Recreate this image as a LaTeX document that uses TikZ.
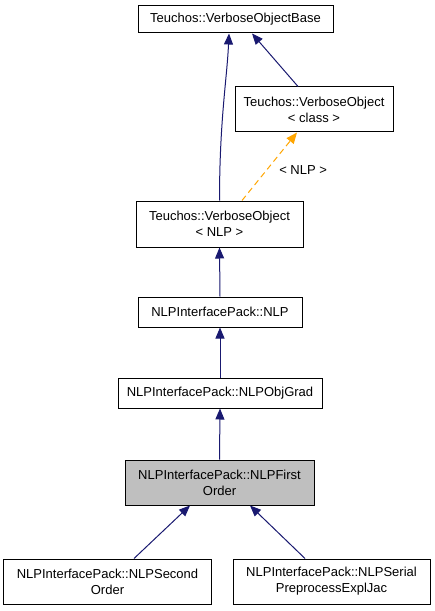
\documentclass[tikz,border=0pt]{standalone}
\usepackage{fontspec}
\setmainfont{Liberation Sans}
\usetikzlibrary{arrows.meta}
\definecolor{edgeblue}{HTML}{191970}
\definecolor{edgeorange}{HTML}{FFA500}
\definecolor{hilite}{HTML}{BFBFBF}
\tikzset{
  box/.style={draw=black, line width=1bp, fill=white, inner sep=0pt, align=center,
    font=\fontsize{13bp}{16bp}\selectfont},
  inherit/.style={draw=edgeblue, line width=1bp, -{Triangle[length=11bp,width=9bp]}},
  templ/.style={draw=edgeorange, line width=1bp, dashed, dash pattern=on 6bp off 4bp,
    -{Triangle[length=11bp,width=9bp]}},
  lbl/.style={font=\fontsize{13bp}{16bp}\selectfont, inner sep=0pt}
}
\begin{document}
\begin{tikzpicture}[x=1bp,y=-1bp]
\useasboundingbox (0,0) rectangle (435,611);
\node[box, minimum width=195bp, minimum height=27bp] (base) at (235.5,19.5) {Teuchos::VerboseObjectBase};
\node[box, minimum width=158bp, minimum height=45bp] (voclass) at (314,109.5) {Teuchos::VerboseObject\\\textless{} class \textgreater};
\node[box, minimum width=167bp, minimum height=46bp] (vonlp) at (219.5,224) {Teuchos::VerboseObject\\\textless{} NLP \textgreater};
\node[box, minimum width=164bp, minimum height=30bp] (nlp) at (220,312) {NLPInterfacePack::NLP};
\node[box, minimum width=204bp, minimum height=30bp] (objgrad) at (220,393) {NLPInterfacePack::NLPObjGrad};
\node[box, fill=hilite, minimum width=189bp, minimum height=45bp] (first) at (219.5,482.5) {NLPInterfacePack::NLPFirst\\Order};
\node[box, minimum width=207bp, minimum height=45bp] (second) at (107.5,581.5) {NLPInterfacePack::NLPSecond\\Order};
\node[box, minimum width=197bp, minimum height=45bp] (serial) at (331.5,581.5) {NLPInterfacePack::NLPSerial\\PreprocessExplJac};

\draw[inherit] (vonlp.north) .. controls ++(0,-80) and ++(-2,45) .. ([xshift=-6.5bp]base.south);
\draw[inherit] ([xshift=-16bp]voclass.north) -- ([xshift=16.5bp]base.south);
\draw[templ] ([xshift=22.5bp]vonlp.north) -- node[lbl, pos=0.45, right=12bp] {\textless{} NLP \textgreater} ([xshift=-17bp]voclass.south);
\draw[inherit] (nlp.north) -- (vonlp.south);
\draw[inherit] (objgrad.north) -- (nlp.south);
\draw[inherit] (first.north) -- (objgrad.south);
\draw[inherit] ([xshift=26.5bp]second.north) -- ([xshift=-29.5bp]first.south);
\draw[inherit] ([xshift=-26.5bp]serial.north) -- ([xshift=30.5bp]first.south);
\end{tikzpicture}
\end{document}
